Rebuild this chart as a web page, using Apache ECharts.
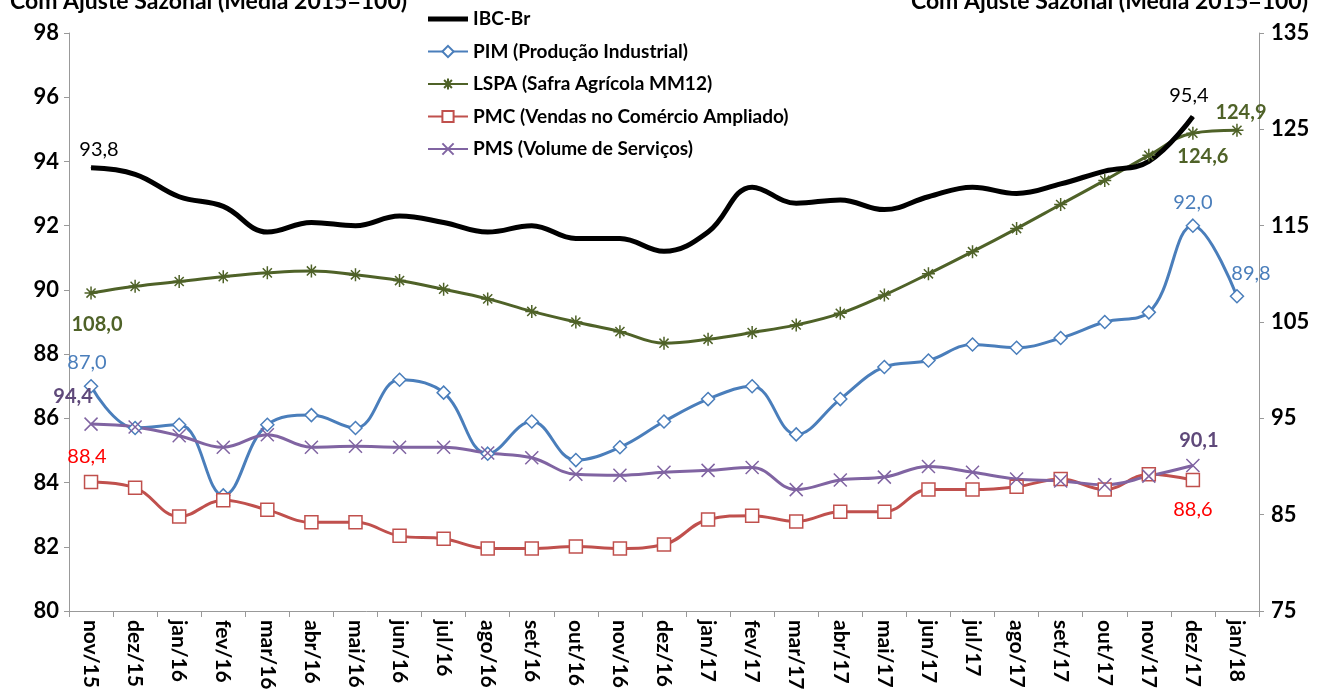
<!DOCTYPE html>
<html>
<head>
<meta charset="utf-8">
<script src="https://cdn.jsdelivr.net/npm/echarts@6/dist/echarts.min.js"></script>
<style>
  html, body { margin: 0; padding: 0; background: #fff; }
  #chart { width: 1324px; height: 700px; }
</style>
</head>
<body>
<div id="chart"></div>
<script>
const categories = ['nov/15', 'dez/15', 'jan/16', 'fev/16', 'mar/16', 'abr/16', 'mai/16', 'jun/16', 'jul/16',
  'ago/16', 'set/16', 'out/16', 'nov/16', 'dez/16', 'jan/17', 'fev/17', 'mar/17', 'abr/17', 'mai/17',
  'jun/17', 'jul/17', 'ago/17', 'set/17', 'out/17', 'nov/17', 'dez/17', 'jan/18']

// eixo esquerdo
const ibcBr = [93.8, 93.6, 92.9, 92.6, 91.8, 92.1, 92.0, 92.3, 92.1, 91.8, 92.0, 91.6, 91.6, 91.2, 91.8,
  93.2, 92.7, 92.8, 92.5, 92.9, 93.2, 93.0, 93.3, 93.7, 94.0, 95.4]
const pim = [87.0, 85.7, 85.8, 83.6, 85.8, 86.1, 85.7, 87.2, 86.8, 84.9, 85.9, 84.7, 85.1, 85.9, 86.6,
  87.0, 85.5, 86.6, 87.6, 87.8, 88.3, 88.2, 88.5, 89.0, 89.3, 92.0, 89.8]

// eixo direito
const lspa = [108.0, 108.7, 109.2, 109.7, 110.1, 110.3, 109.9, 109.3, 108.4, 107.4, 106.1, 105.0, 104.0,
  102.8, 103.2, 103.9, 104.7, 105.9, 107.8, 110.0, 112.3, 114.7, 117.2, 119.7, 122.3, 124.6, 124.9]
const pmc = [88.4, 87.8, 84.8, 86.5, 85.5, 84.2, 84.2, 82.8, 82.5, 81.5, 81.5, 81.7, 81.5, 81.9, 84.5,
  84.9, 84.3, 85.3, 85.3, 87.6, 87.6, 87.9, 88.7, 87.6, 89.2, 88.6]
const pms = [94.4, 94.1, 93.2, 92.0, 93.3, 92.0, 92.1, 92.0, 92.0, 91.4, 90.9, 89.2, 89.1, 89.4, 89.6,
  89.9, 87.6, 88.6, 88.9, 90.0, 89.4, 88.7, 88.5, 88.1, 89.0, 90.1]

const seriesNames = ['IBC-Br', 'PIM (Produção Industrial)', 'LSPA (Safra Agrícola MM12)',
  'PMC (Vendas no Comércio Ampliado)', 'PMS (Volume de Serviços)']
const leftTitle = 'Com Ajuste Sazonal (Média 2015=100)'
const rightTitle = 'Com Ajuste Sazonal (Média 2015=100)'

const FONT = 'Lato, "Open Sans", sans-serif'
const fmt = v => v.toFixed(1).replace('.', ',')

// rotula so alguns pontos (primeiro / ultimos)
function withLabels(values, labels, color, bold) {
  return values.map((v, i) => {
    const l = labels[i]
    if (!l) return v
    return {
      value: v,
      label: {
        show: true,
        position: l.pos,
        distance: l.dist ?? 6,
        offset: l.off || [0, 0],
        formatter: p => fmt(p.value),
        color,
        fontFamily: FONT,
        fontSize: 20,
        fontWeight: bold ? 'bold' : 'normal'
      }
    }
  })
}

const asterisk = 'path://M5,0L5,10M0,5L10,5M1.5,1.5L8.5,8.5M1.5,8.5L8.5,1.5'
const cross = 'path://M0,0L10,10M0,10L10,0'

const chart = echarts.init(document.getElementById('chart'))

const option = {
  animation: false,
  backgroundColor: '#fff',
  textStyle: { fontFamily: FONT },
  graphic: [
    { type: 'text', left: 10, top: -10, style: { text: leftTitle, font: 'bold 23px ' + FONT, fill: '#000' } },
    { type: 'text', right: 16, top: -10, style: { text: rightTitle, font: 'bold 23px ' + FONT, fill: '#000' } }
  ],
  legend: {
    orient: 'vertical',
    left: 422,
    top: 3,
    itemWidth: 40,
    itemHeight: 14,
    itemGap: 10.5,
    data: [
      { name: seriesNames[0], icon: 'path://M0,0L40,0L40,5L0,5Z', itemStyle: { color: '#000', borderWidth: 0 } },
      seriesNames[1], seriesNames[2], seriesNames[3], seriesNames[4]
    ],
    textStyle: { fontFamily: FONT, fontSize: 19, fontWeight: 'bold', color: '#000', lineHeight: 22 }
  },
  grid: { left: 69, right: 65, top: 33, bottom: 89 },
  xAxis: {
    type: 'category',
    data: categories,
    boundaryGap: true,
    axisLine: { lineStyle: { color: '#999' } },
    axisTick: { show: true, interval: 0, length: 6, lineStyle: { color: '#999' } },
    axisLabel: {
      interval: 0,
      rotate: -90,
      margin: 9,
      color: '#000',
      fontFamily: FONT,
      fontSize: 21,
      fontWeight: 'bold'
    }
  },
  yAxis: [
    {
      type: 'value',
      min: 80,
      max: 98,
      interval: 2,
      axisLine: { show: true, lineStyle: { color: '#999' } },
      axisTick: { show: true, length: 5, lineStyle: { color: '#999' } },
      splitLine: { show: false },
      axisLabel: { margin: 10, color: '#000', fontFamily: FONT, fontSize: 22, fontWeight: 'bold' }
    },
    {
      type: 'value',
      min: 75,
      max: 135,
      interval: 10,
      position: 'right',
      axisLine: { show: true, lineStyle: { color: '#999' } },
      axisTick: { show: true, length: 5, lineStyle: { color: '#999' } },
      splitLine: { show: false },
      axisLabel: { margin: 12, color: '#000', fontFamily: FONT, fontSize: 22, fontWeight: 'bold' }
    }
  ],
  series: [
    {
      name: seriesNames[1],
      type: 'line',
      yAxisIndex: 0,
      smooth: 0.4,
      color: '#4a7ebb',
      symbol: 'diamond',
      symbolSize: 13,
      lineStyle: { color: '#4a7ebb', width: 3 },
      itemStyle: { color: '#fff', borderColor: '#4a7ebb', borderWidth: 1.5 },
      data: withLabels(pim, {
        0: { pos: 'top', off: [-4, 0] },
        25: { pos: 'top', dist: 6 },
        26: { pos: 'top', off: [14, 0] }
      }, '#4a7ebb', false)
    },
    {
      name: seriesNames[2],
      type: 'line',
      yAxisIndex: 1,
      smooth: 0.4,
      color: '#4f6228',
      symbol: asterisk,
      symbolSize: 13,
      lineStyle: { color: '#4f6228', width: 3 },
      itemStyle: { color: '#4f6228', borderColor: '#4f6228', borderWidth: 1.5 },
      data: withLabels(lspa, {
        0: { pos: 'bottom', dist: 14, off: [6, 0] },
        25: { pos: 'bottom', dist: 6, off: [10, 0] },
        26: { pos: 'top', dist: 4, off: [4, 4] }
      }, '#4f6228', true)
    },
    {
      name: seriesNames[3],
      type: 'line',
      yAxisIndex: 1,
      smooth: 0.4,
      color: '#c0504d',
      symbol: 'rect',
      symbolSize: 13,
      lineStyle: { color: '#c0504d', width: 3 },
      itemStyle: { color: '#fff', borderColor: '#c0504d', borderWidth: 1.5 },
      data: withLabels(pmc, {
        0: { pos: 'top', dist: 8, off: [-4, 0] },
        25: { pos: 'bottom', dist: 12 }
      }, '#ff0000', false)
    },
    {
      name: seriesNames[4],
      type: 'line',
      yAxisIndex: 1,
      smooth: 0.4,
      color: '#8064a2',
      symbol: cross,
      symbolSize: 13,
      lineStyle: { color: '#8064a2', width: 3 },
      itemStyle: { color: '#8064a2', borderColor: '#8064a2', borderWidth: 1.5 },
      data: withLabels(pms, {
        0: { pos: 'top', dist: 8, off: [-18, -2] },
        25: { pos: 'top', dist: 8, off: [6, 0] }
      }, '#5f497a', true)
    },
    {
      name: seriesNames[0],
      type: 'line',
      yAxisIndex: 0,
      smooth: 0.4,
      color: '#000',
      symbol: 'circle',
      symbolSize: 1,
      lineStyle: { color: '#000', width: 5 },
      itemStyle: { color: '#000' },
      z: 3,
      data: withLabels(ibcBr, {
        0: { pos: 'top', dist: 8, off: [8, 0] },
        25: { pos: 'top', dist: 10, off: [-4, 0] }
      }, '#000', false)
    }
  ]
}

chart.setOption(option)
</script>
</body>
</html>
